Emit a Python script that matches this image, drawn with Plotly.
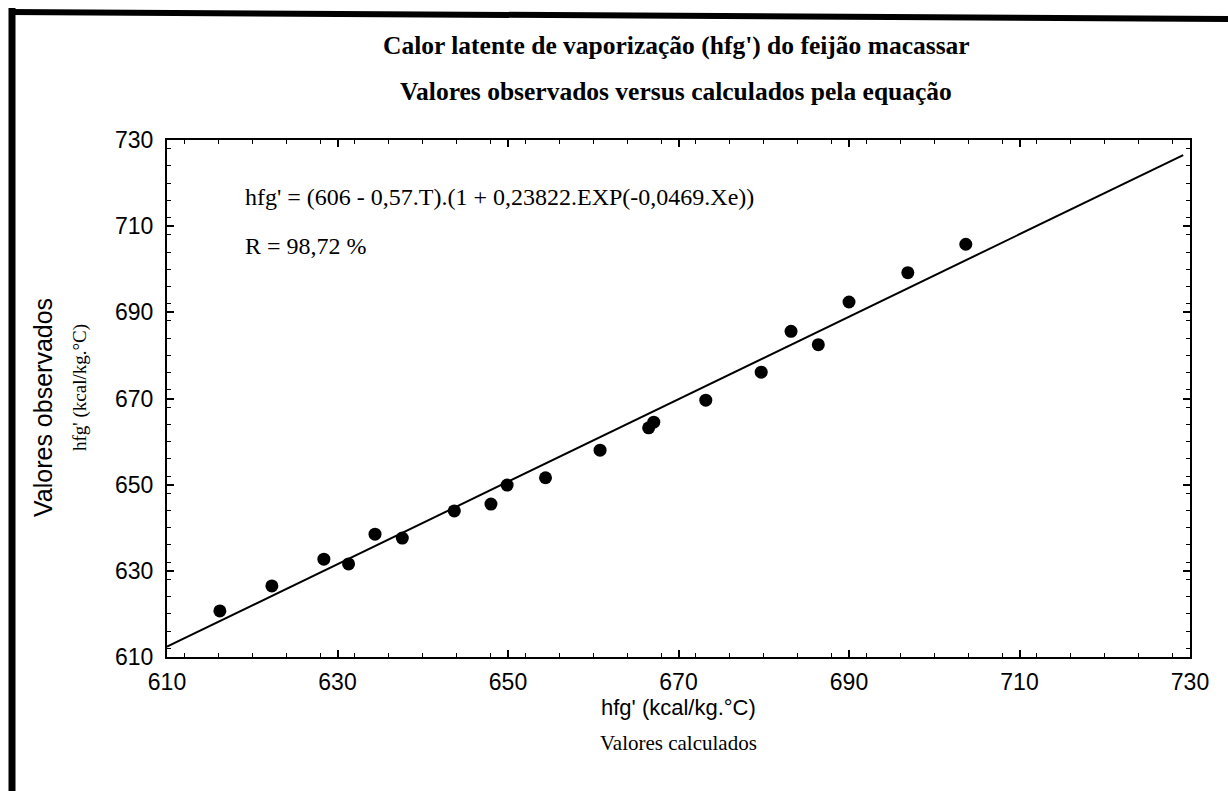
import plotly.graph_objects as go

# Data
calc_x = [616.2, 622.3, 628.4, 631.3, 634.4, 637.6, 643.7, 648.0, 649.9, 654.4,
          660.8, 666.5, 667.1, 673.2, 679.7, 683.2, 686.4, 690.0, 696.9, 703.7]
obs_y = [620.7, 626.5, 632.7, 631.6, 638.5, 637.6, 643.9, 645.5, 649.9, 651.6,
         658.0, 663.2, 664.5, 669.6, 676.1, 685.6, 682.5, 692.4, 699.2, 705.8]
fit_x = [610.0, 729.2]
fit_y = [612.4, 726.5]
tick_vals = [610, 630, 650, 670, 690, 710, 730]
tick_text = ["610", "630", "650", "670", "690", "710", "730"]

title_lines = ["Calor latente de vaporização (hfg') do feijão macassar",
               "Valores observados versus calculados pela equação"]
equation_text = "hfg' = (606 - 0,57.T).(1 + 0,23822.EXP(-0,0469.Xe))"
r_text = "R = 98,72 %"
x_title_1 = "hfg' (kcal/kg.°C)"
x_title_2 = "Valores calculados"
y_title_1 = "Valores observados"
y_title_2 = "hfg' (kcal/kg.°C)"

SERIF = "Liberation Serif"
SANS = "Liberation Sans"

fig = go.Figure()
fig.add_trace(go.Scatter(x=fit_x, y=fit_y, mode="lines",
                         line=dict(color="black", width=2), showlegend=False,
                         hoverinfo="skip"))
fig.add_trace(go.Scatter(x=calc_x, y=obs_y, mode="markers",
                         marker=dict(color="black", size=13), showlegend=False))

axis_common = dict(
    range=[610, 730], tickvals=tick_vals, ticktext=tick_text,
    ticks="inside", ticklen=7, tickwidth=1.5, tickcolor="black",
    minor=dict(dtick=4, ticks="inside", ticklen=4, tickwidth=1, tickcolor="black"),
    showline=True, linecolor="black", linewidth=2, mirror="allticks",
    showgrid=False, zeroline=False,
    tickfont=dict(family=SANS, size=23, color="black"),
)

plot_l, plot_r, plot_t, plot_b = 167, 1190, 140, 657

fig.update_layout(
    width=1228, height=791,
    margin=dict(l=plot_l, r=1228 - plot_r, t=plot_t, b=791 - plot_b),
    paper_bgcolor="white", plot_bgcolor="white",
    xaxis=dict(**axis_common, ticklabelstandoff=3),
    yaxis=dict(**axis_common, ticklabelstandoff=7),
    showlegend=False,
)

W_, H_ = plot_r - plot_l, plot_b - plot_t


def px(xp):
    return (xp - plot_l) / W_


def py(yp):
    return (plot_b - yp) / H_


def note(text, xp, yp, family, size, anchor="center", angle=0):
    fig.add_annotation(text=text, x=px(xp), y=py(yp), xref="paper", yref="paper",
                       showarrow=False, xanchor=anchor, yanchor="middle",
                       textangle=angle,
                       font=dict(family=family, size=size, color="black"))


note("<b>" + title_lines[0] + "</b>", 676, 46, SERIF, 25.5)
note("<b>" + title_lines[1] + "</b>", 676, 92, SERIF, 25.5)
note(equation_text, 243, 197, SERIF, 24, anchor="left")
note(r_text, 243, 246, SERIF, 24, anchor="left")
note(x_title_1, 678.5, 707, SANS, 22)
note(x_title_2, 678.5, 743, SERIF, 21)
note(y_title_1, 43, 408, SANS, 25, angle=-90)
note(y_title_2, 80, 388, SERIF, 19, angle=-90)

# scanned page frame (thick left and top edges)
fig.add_shape(type="line", xref="paper", yref="paper",
              x0=px(12), x1=px(12), y0=py(8), y1=py(791),
              line=dict(color="black", width=7), layer="above")
fig.add_shape(type="line", xref="paper", yref="paper",
              x0=px(9), x1=px(1228), y0=py(12), y1=py(19),
              line=dict(color="black", width=6), layer="above")

fig.write_html("out.html")
